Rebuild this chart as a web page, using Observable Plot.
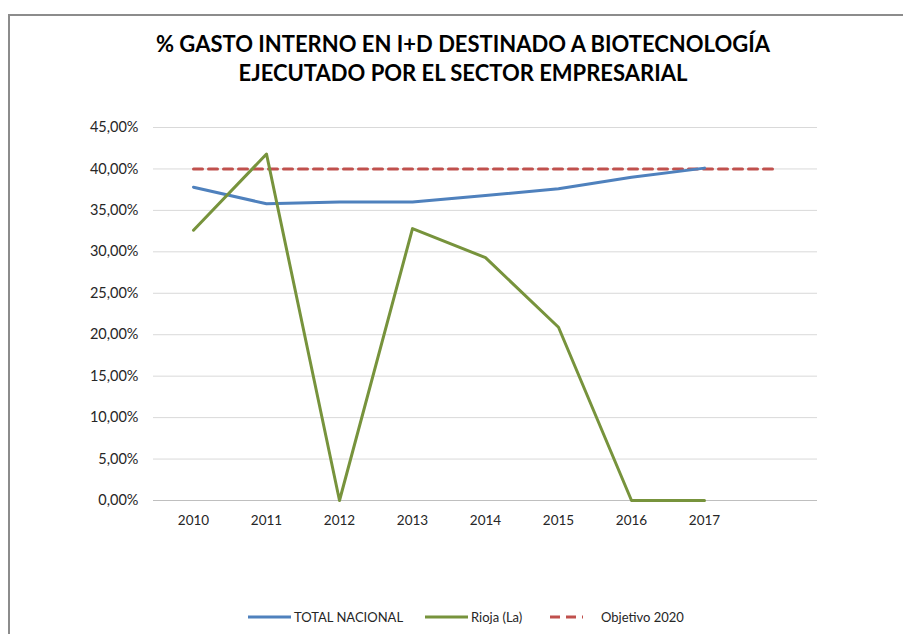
<!DOCTYPE html>
<html>
<head>
<meta charset="utf-8">
<script src="https://cdn.jsdelivr.net/npm/d3@7"></script>
<script src="https://cdn.jsdelivr.net/npm/@observablehq/plot@0.6"></script>
<style>
  html, body { margin: 0; padding: 0; background: #fff; }
  body { width: 903px; height: 634px; position: relative; overflow: hidden; font-family: Lato, "Liberation Sans", sans-serif; }
  #frame { position: absolute; left: 8px; top: 14px; width: 1000px; height: 700px; border: 1px solid #8c8c8c; border-width: 2px 0 0 2px; box-sizing: border-box; }
  #title { position: absolute; left: 0; width: 926px; top: 29px; text-align: center; font-weight: bold; font-size: 22px; line-height: 29px; color: #000; }
  #chart { position: absolute; left: 0; top: 100px; }
  #legend { position: absolute; top: 606px; left: 0; width: 903px; height: 22px; font-size: 13px; color: #262626; }
  .item { position: absolute; top: 0; display: flex; align-items: center; height: 22px; }
  .item svg { margin-right: 3px; }
</style>
</head>
<body>
<div id="frame"></div>
<div id="title">% GASTO INTERNO EN I+D DESTINADO A BIOTECNOLOGÍA<br>EJECUTADO POR EL SECTOR EMPRESARIAL</div>
<div id="chart"></div>
<div id="legend"></div>
<script>
// Categories (last one is an unlabeled extra category where only the target line reaches)
const categories = ["2010", "2011", "2012", "2013", "2014", "2015", "2016", "2017", ""];
const totalNacional = [37.8, 35.8, 36.0, 36.0, 36.8, 37.6, 39.0, 40.1];
const rioja = [32.6, 41.8, 0, 32.8, 29.3, 20.9, 0, 0];
const objetivo2020 = [40, 40, 40, 40, 40, 40, 40, 40, 40];
const yTicks = [0, 5, 10, 15, 20, 25, 30, 35, 40, 45];

const seriesNames = ["TOTAL NACIONAL", "Rioja (La)", "Objetivo 2020"];
const seriesColors = ["#4f81bd", "#77933c", "#c0504d"];

const toRows = (vals, name) => vals.map((v, i) => ({cat: categories[i], value: v, series: name}));
const rowsTotal = toRows(totalNacional, seriesNames[0]);
const rowsRioja = toRows(rioja, seriesNames[1]);
const rowsObj = toRows(objetivo2020, seriesNames[2]);

const fmt = d => d.toFixed(2).replace(".", ",") + "%";

const chart = Plot.plot({
  width: 903,
  height: 450,
  marginLeft: 153,
  marginRight: 86,
  marginTop: 27,
  marginBottom: 50,
  style: {fontFamily: "Lato, 'Liberation Sans', sans-serif", fontSize: "13px", color: "#262626", background: "transparent", overflow: "visible"},
  x: {type: "point", domain: categories, padding: 0.5, label: null},
  y: {domain: [0, 45], label: null},
  marks: [
    Plot.ruleY(yTicks.filter(d => d > 0), {stroke: "#d9d9d9", strokeWidth: 1}),
    Plot.ruleY([0], {stroke: "#bfbfbf", strokeWidth: 1}),
    Plot.axisY({ticks: yTicks, tickSize: 0, tickPadding: 15, tickFormat: fmt, label: null, fontSize: 14.5}),
    Plot.axisX({tickSize: 0, tickPadding: 15, label: null, fontSize: 13.5}),
    Plot.line(rowsObj, {x: "cat", y: "value", stroke: seriesColors[2], strokeWidth: 3, strokeDasharray: "9,6"}),
    Plot.line(rowsTotal, {x: "cat", y: "value", stroke: seriesColors[0], strokeWidth: 3}),
    Plot.line(rowsRioja, {x: "cat", y: "value", stroke: seriesColors[1], strokeWidth: 3})
  ]
});
document.getElementById("chart").appendChild(chart);

// Legend
const legend = document.getElementById("legend");
const legendX = [248, 425, 550];
seriesNames.forEach((name, i) => {
  const item = document.createElement("div");
  item.className = "item";
  item.style.left = legendX[i] + "px";
  const dashed = i === 2;
  const w = dashed ? 48 : 43;
  item.innerHTML = `<svg width="${w}" height="6"><line x1="0" y1="3" x2="${dashed ? 33 : w}" y2="3" stroke="${seriesColors[i]}" stroke-width="3" ${dashed ? 'stroke-dasharray="10,6"' : ''}/></svg><span>${name}</span>`;
  legend.appendChild(item);
});
</script>
</body>
</html>
